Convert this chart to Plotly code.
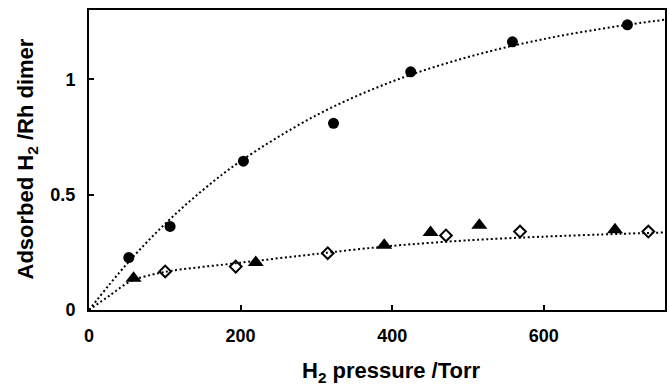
import plotly.graph_objects as go

# Data
circle_x = [52.5, 107, 203.7, 322.6, 424.5, 558.7, 710.4]
circle_y = [0.227, 0.362, 0.645, 0.809, 1.032, 1.162, 1.236]

triangle_x = [58.8, 220, 389.5, 450.7, 515, 694]
triangle_y = [0.138, 0.206, 0.281, 0.336, 0.367, 0.348]

diamond_x = [100.5, 193.6, 315, 471, 568.7, 738]
diamond_y = [0.167, 0.188, 0.246, 0.323, 0.340, 0.340]

# Fitted (dotted) curves
upper_fit_x = [0, 50, 100, 150, 200, 300, 400, 500, 600, 700, 760]
upper_fit_y = [0, 0.20, 0.372, 0.519, 0.645, 0.844, 0.990, 1.096, 1.174, 1.231, 1.258]

lower_fit_x = [0, 27, 55, 100, 200, 300, 400, 500, 600, 700, 760]
lower_fit_y = [0, 0.062, 0.125, 0.165, 0.205, 0.243, 0.278, 0.302, 0.318, 0.330, 0.336]

x_ticks = [0, 200, 400, 600]
y_ticks = [0, 0.5, 1]
y_tick_labels = ["0", "0.5", "1"]

FONT = "Liberation Sans, Arial, sans-serif"
dot = dict(color="black", width=2, dash="2px,2.6px")

fig = go.Figure()
fig.add_trace(go.Scatter(x=upper_fit_x, y=upper_fit_y, mode="lines",
                         line=dict(shape="spline", smoothing=1.0, **dot),
                         hoverinfo="skip", showlegend=False))
fig.add_trace(go.Scatter(x=lower_fit_x, y=lower_fit_y, mode="lines",
                         line=dict(shape="spline", smoothing=0.8, **dot),
                         hoverinfo="skip", showlegend=False))
fig.add_trace(go.Scatter(x=circle_x, y=circle_y, mode="markers",
                         marker=dict(symbol="circle", size=11, color="black"),
                         showlegend=False))
fig.add_trace(go.Scatter(x=triangle_x, y=triangle_y, mode="markers",
                         marker=dict(symbol="triangle-up", size=14, color="black"),
                         showlegend=False))
fig.add_trace(go.Scatter(x=diamond_x, y=diamond_y, mode="markers",
                         marker=dict(symbol="diamond-open", size=9, color="black",
                                     line=dict(width=2, color="black")),
                         showlegend=False))

axis_common = dict(showline=True, linecolor="black", linewidth=2, mirror=True,
                   ticks="inside", ticklen=5, tickwidth=2, tickcolor="black",
                   showgrid=False, zeroline=False,
                   tickfont=dict(family=FONT, size=18, color="black", weight="bold"))

fig.update_xaxes(range=[0, 760], tickvals=x_ticks, ticklabelstandoff=8, **axis_common)
fig.update_yaxes(range=[0, 1.30], tickvals=y_ticks, ticktext=y_tick_labels,
                 ticklabelstandoff=8, **axis_common)

fig.add_annotation(text="H<sub>2</sub> pressure /Torr", xref="paper", yref="paper",
                   x=0.525, y=-0.205, xanchor="center", yanchor="middle", showarrow=False,
                   font=dict(family=FONT, size=22, color="black", weight="bold"))
fig.add_annotation(text="Adsorbed H<sub>2</sub> /Rh dimer", xref="paper", yref="paper",
                   x=-0.107, y=0.503, xanchor="center", yanchor="middle", showarrow=False,
                   textangle=-90,
                   font=dict(family=FONT, size=22, color="black", weight="bold"))

fig.update_layout(width=669, height=385,
                  margin=dict(l=89, r=2, t=10, b=75),
                  paper_bgcolor="white", plot_bgcolor="white")

fig.write_html("out.html")
